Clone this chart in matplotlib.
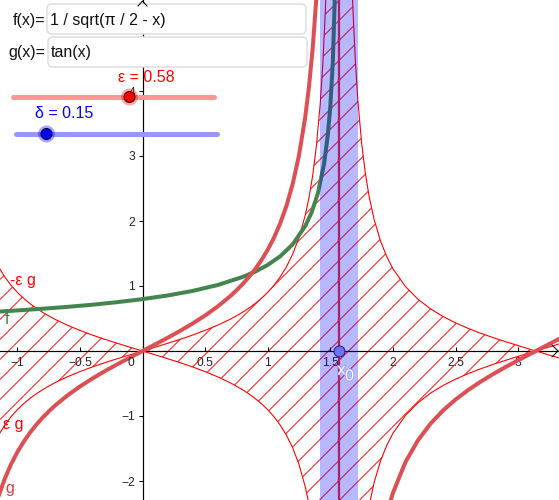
import numpy as np
import matplotlib
matplotlib.use("Agg")
import matplotlib.pyplot as plt
from matplotlib.collections import LineCollection
from matplotlib.patches import FancyBboxPatch, Circle
import matplotlib.patheffects as pe

# ---- values ----
epsilon = 0.58
delta = 0.15
x0 = 1.571

x_left = [-1.15, -1.1, -1.05, -1.0, -0.95, -0.9, -0.85, -0.8, -0.75, -0.7, -0.6, -0.5, -0.4, -0.3, -0.2, -0.1, 0.0,
          0.1, 0.2, 0.3, 0.4, 0.5, 0.6, 0.7, 0.75, 0.8, 0.85, 0.9, 0.95, 1.0, 1.05, 1.1, 1.15, 1.2, 1.25, 1.3,
          1.33, 1.36, 1.39, 1.42, 1.44, 1.46, 1.48]
g_left = [-2.234, -1.965, -1.743, -1.557, -1.398, -1.260, -1.138, -1.030, -0.932, -0.842, -0.684, -0.546, -0.423,
          -0.309, -0.203, -0.100, 0.0, 0.100, 0.203, 0.309, 0.423, 0.546, 0.684, 0.842, 0.932, 1.030, 1.138, 1.260,
          1.398, 1.557, 1.743, 1.965, 2.234, 2.572, 3.010, 3.602, 4.07, 4.67, 5.47, 6.58, 7.60, 8.98, 10.98]
eps_g_left = [-1.296, -1.140, -1.011, -0.903, -0.811, -0.731, -0.660, -0.597, -0.541, -0.488, -0.397, -0.317, -0.245,
              -0.179, -0.118, -0.058, 0.0, 0.058, 0.118, 0.179, 0.245, 0.317, 0.397, 0.488, 0.541, 0.597, 0.660,
              0.731, 0.811, 0.903, 1.011, 1.140, 1.296, 1.492, 1.746, 2.089, 2.361, 2.709, 3.173, 3.816, 4.408,
              5.208, 6.368]

x_right = [1.66, 1.68, 1.70, 1.72, 1.75, 1.78, 1.81, 1.85, 1.9, 1.95, 2.0, 2.1, 2.2, 2.3, 2.4, 2.5, 2.6, 2.7, 2.8,
           2.9, 3.0, 3.1, 3.14, 3.2, 3.3, 3.35]
g_right = [-11.18, -9.12, -7.70, -6.65, -5.52, -4.71, -4.10, -3.49, -2.927, -2.508, -2.185, -1.710, -1.374, -1.119,
           -0.916, -0.747, -0.602, -0.473, -0.356, -0.246, -0.143, -0.042, -0.002, 0.058, 0.159, 0.209]
eps_g_right = [-6.484, -5.290, -4.466, -3.857, -3.202, -2.732, -2.378, -2.024, -1.698, -1.455, -1.267, -0.992, -0.797,
               -0.649, -0.531, -0.433, -0.349, -0.274, -0.206, -0.143, -0.083, -0.024, -0.001, 0.034, 0.092, 0.121]

x_f = [-1.15, -1.0, -0.8, -0.6, -0.4, -0.2, 0.0, 0.2, 0.4, 0.6, 0.8, 0.9, 1.0, 1.1, 1.2, 1.3, 1.35, 1.4, 1.45, 1.48,
       1.5, 1.52, 1.54]
f_vals = [0.606, 0.624, 0.650, 0.679, 0.712, 0.752, 0.798, 0.854, 0.924, 1.015, 1.139, 1.221, 1.324, 1.457, 1.642,
          1.922, 2.128, 2.420, 2.877, 3.319, 3.758, 4.437, 5.698]

x_ticks = [-1, -0.5, 0.5, 1, 1.5, 2, 2.5, 3]
x_tick_labels = ["\u22121", "\u22120.5", "0.5", "1", "1.5", "2", "2.5", "3"]
y_ticks = [-2, -1, 1, 2, 3, 4]
y_tick_labels = ["\u22122", "\u22121", "1", "2", "3", "4"]

# ---- styling ----
W, H, DPI = 559, 500, 100
px = 72 / DPI
plt.rcParams["font.family"] = ["Liberation Sans", "DejaVu Sans"]
plt.rcParams["axes.unicode_minus"] = True
RED = "#ff0000"
G_COL = "#dc5055"
F_COL = "#44844e"

fig = plt.figure(figsize=(W / DPI, H / DPI), dpi=DPI, facecolor="white")
ax = fig.add_axes([0, 0, 1, 1])
ax.set_xlim(-142.5 / 125.2, (559 - 142.5) / 125.2)
ax.set_ylim(-149 / 65.0, 351 / 65.0)
ax.patch.set_visible(False)

for s in ("top", "right"):
    ax.spines[s].set_visible(False)
for s in ("left", "bottom"):
    ax.spines[s].set_position(("data", 0))
    ax.spines[s].set_linewidth(1.2 * px)
    ax.spines[s].set_zorder(2)
ax.set_xticks(x_ticks)
ax.set_xticklabels(x_tick_labels)
ax.set_yticks(y_ticks)
ax.set_yticklabels(y_tick_labels)
ax.tick_params(axis="x", direction="in", length=4 * px, width=1 * px, pad=6 * px,
               labelsize=12 * px, labelcolor="#222222")
ax.tick_params(axis="y", direction="out", length=4 * px, width=1 * px, pad=3.5 * px,
               labelsize=12 * px, labelcolor="#222222")

xl, el = np.array(x_left), np.array(eps_g_left)
xr, er = np.array(x_right), np.array(eps_g_right)
gl, gr = np.array(g_left), np.array(g_right)

# overlay in pixels for the widgets and free labels
ov = fig.add_axes([0, 0, 1, 1], zorder=10)
ov.set_xlim(0, W)
ov.set_ylim(H, 0)
ov.axis("off")
ov.patch.set_visible(False)

# hatched area between the two thin curves: the outline clips a set of 45 degree rules
x_all = np.concatenate([xl, xr])
e_all = np.abs(np.concatenate([el, er]))
keep = x_all <= 3.14
area = ax.fill_between(x_all[keep], -e_all[keep], e_all[keep], facecolor="none", edgecolor="none", linewidth=0, zorder=1)
rule_sums = np.arange(19.5, W + H + 20, 20.0)
rules = LineCollection([[(c, 0), (0, c)] for c in rule_sums], colors=RED, linewidths=0.9 * px,
                       antialiaseds=True, transform=ov.transData, zorder=1)
ax.add_collection(rules, autolim=False)
rules.set_clip_path(area.get_paths()[0], ax.transData)

# thin curves
for xs, es in ((xl, el), (xr, er)):
    ax.plot(xs, es, color=RED, lw=1.1 * px, zorder=3)
    ax.plot(xs, -es, color=RED, lw=1.1 * px, zorder=3)

# x0 line
ax.axvline(x0, color="#f02c28", lw=2.2 * px, zorder=3)

# main curves
ax.plot(x_f, f_vals, color=F_COL, lw=4 * px, zorder=4)
ax.plot(xl, gl, color=G_COL, lw=4 * px, zorder=4)
ax.plot(xr, gr, color=G_COL, lw=4 * px, zorder=4)

# delta band above curves
ax.axvspan(x0 - delta, x0 + delta, facecolor=(0, 0, 1), alpha=0.28, linewidth=0, zorder=5)

# point x0
ax.plot([x0], [0], "o", ms=11 * px, mfc="#7070ff", mec="#20205a", mew=1 * px, zorder=6)

# axis arrows
ov.plot([552, 558, 552], [345, 351, 357], color="black", lw=1 * px, clip_on=False)
ov.plot([138, 142.5, 147], [6, 1, 6], color="black", lw=1 * px, clip_on=False)

def box(x, y, w, h):
    ov.add_patch(FancyBboxPatch((x, y), w, h, boxstyle="round,pad=0,rounding_size=5",
                                facecolor="white", edgecolor="#dddddd", lw=1.5 * px))

box(47, 4, 259, 30)
box(48, 37, 259, 30)
T = 16 * px
ov.text(45, 20, "f(x)=", ha="right", va="center", fontsize=T, color="#111111")
ov.text(45.5, 53, "g(x)=", ha="right", va="center", fontsize=T, color="#111111")
ov.text(50, 20, "1 / sqrt(\u03c0 / 2 - x)", ha="left", va="center", fontsize=T, color="#111111")
ov.text(50.5, 53, "tan(x)", ha="left", va="center", fontsize=T, color="#111111")

# sliders
ov.plot([13, 214], [97, 97], color="#ff9696", lw=5 * px, solid_capstyle="round", zorder=2)
ov.add_patch(Circle((129.5, 97), 8.5, facecolor="#ff0000", alpha=0.35, lw=0, zorder=3))
ov.add_patch(Circle((129.5, 97), 5.5, facecolor="#ff0000", edgecolor="#300000", lw=1 * px, zorder=4))
ov.text(146, 77, "\u03b5 = %.2f" % epsilon, ha="center", va="center", fontsize=T, color="#ff0000")

ov.plot([16, 217], [134, 134], color="#9696ff", lw=5 * px, solid_capstyle="round", zorder=2)
ov.add_patch(Circle((46.5, 134), 8.5, facecolor="#0000ff", alpha=0.35, lw=0, zorder=3))
ov.add_patch(Circle((46.5, 134), 5.5, facecolor="#0000ff", edgecolor="#000030", lw=1 * px, zorder=4))
ov.text(64, 114, "\u03b4 = %.2f" % delta, ha="center", va="center", fontsize=T, color="#0000ff")

# free labels
ov.text(131, 363, "0", ha="center", va="center", fontsize=12 * px, color="#222222")
ov.text(10, 280, "-\u03b5 g", ha="left", va="center", fontsize=T, color="#ff0000")
ov.text(3, 425, "\u03b5 g", ha="left", va="center", fontsize=T, color="#ff0000")
ov.text(5, 488, "g", ha="left", va="center", fontsize=T, color="#dc3c46")
ov.text(5, 320, "f", ha="left", va="center", fontsize=T, color=F_COL)
stroke = [pe.withStroke(linewidth=1.6 * px, foreground="#9a9aff")]
ov.text(341.5, 370, "x", ha="center", va="center", fontsize=T, color="white", path_effects=stroke)
ov.text(349.5, 376, "0", ha="center", va="center", fontsize=T, color="white", path_effects=stroke)

fig.savefig("out.png", dpi=DPI)
